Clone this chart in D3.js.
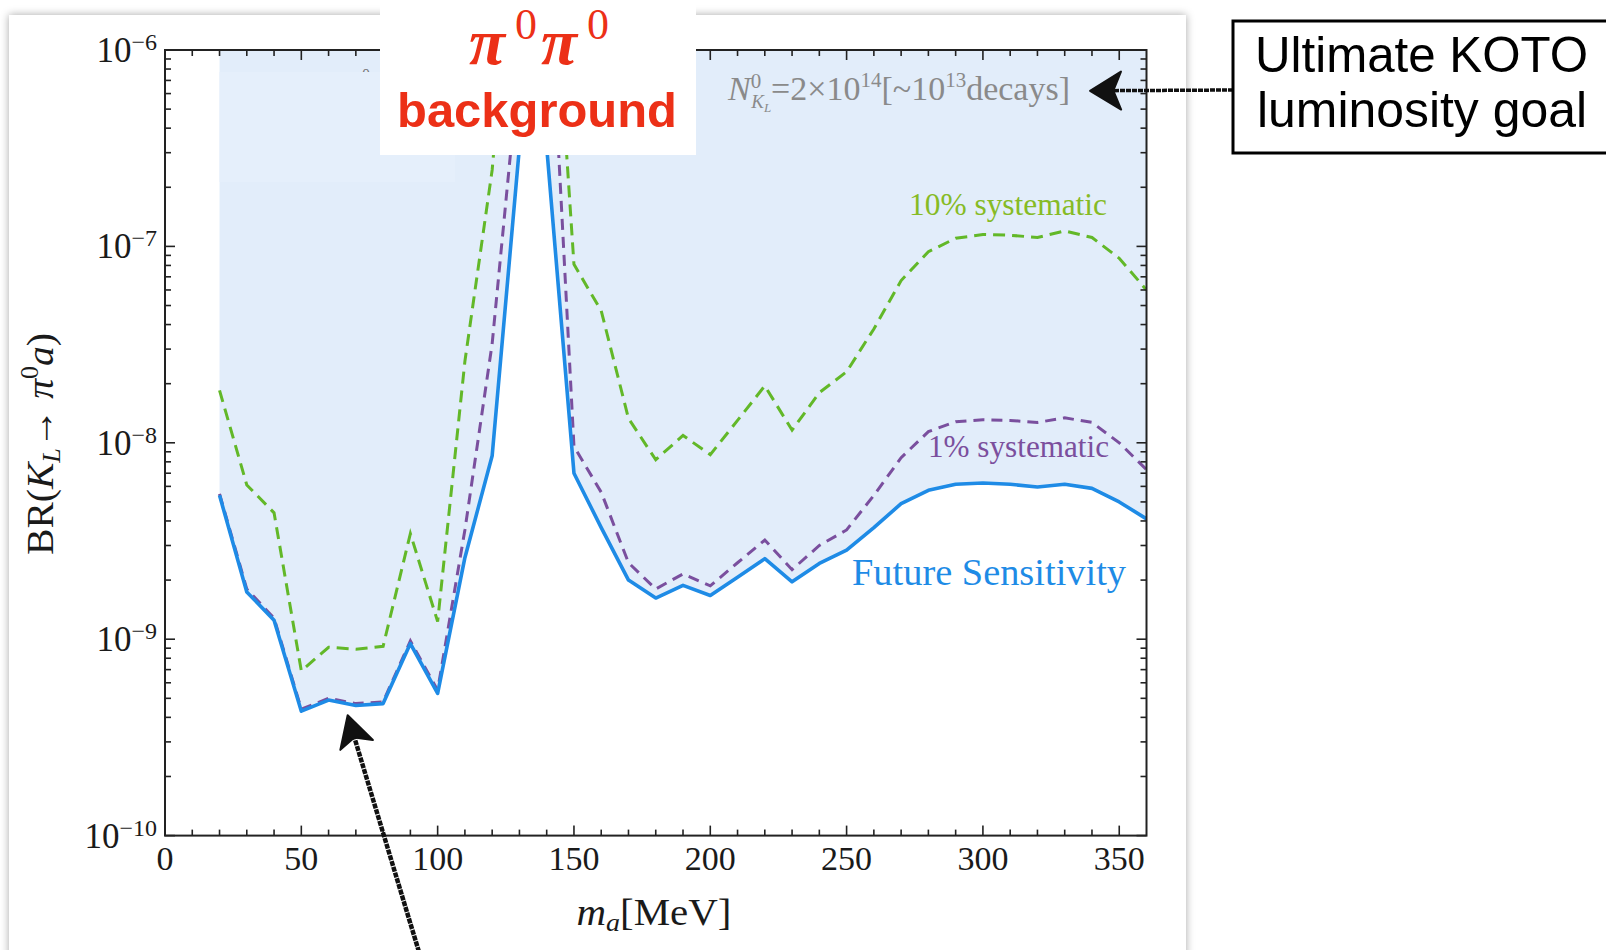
<!DOCTYPE html>
<html>
<head>
<meta charset="utf-8">
<script src="https://cdn.jsdelivr.net/npm/d3@7"></script>
<style>
  body { margin: 0; background: #fff; }
  svg { display: block; }
</style>
</head>
<body>
<script>
// axion mass grid [MeV]
const masses = [20, 30, 40, 50, 60, 70, 80, 90, 100, 110, 120, 130, 140, 150, 160, 170, 180,
  190, 200, 210, 220, 230, 240, 250, 260, 270, 280, 290, 300, 310, 320, 330, 340, 350, 360];

// BR(K_L -> pi0 a) reach, future sensitivity (solid blue)
const futureSens = [5.4e-9, 1.74e-9, 1.25e-9, 4.3e-10, 4.9e-10, 4.6e-10, 4.7e-10, 9.5e-10, 5.3e-10,
  2.6e-9, 8.6e-9, 3.2e-7, 3.2e-7, 7.0e-9, 3.7e-9, 2.0e-9, 1.62e-9, 1.88e-9, 1.67e-9, 2.07e-9,
  2.57e-9, 1.96e-9, 2.43e-9, 2.84e-9, 3.7e-9, 4.9e-9, 5.73e-9, 6.15e-9, 6.24e-9, 6.15e-9,
  5.96e-9, 6.15e-9, 5.86e-9, 5.0e-9, 4.1e-9];

// 1% systematic (purple dashed)
const sys1 = [5.5e-9, 1.8e-9, 1.28e-9, 4.4e-10, 5.0e-10, 4.7e-10, 4.8e-10, 9.8e-10, 5.5e-10,
  3.6e-9, 3.2e-8, 8.8e-7, 4.4e-6, 9.6e-9, 5.6e-9, 2.45e-9, 1.8e-9, 2.15e-9, 1.87e-9, 2.45e-9,
  3.2e-9, 2.26e-9, 3.0e-9, 3.6e-9, 5.4e-9, 8.4e-9, 1.14e-8, 1.28e-8, 1.31e-8, 1.3e-8,
  1.27e-8, 1.34e-8, 1.27e-8, 1.0e-8, 7.3e-9];

// 10% systematic (green dashed)
const sys10 = [1.85e-8, 6.1e-9, 4.4e-9, 6.9e-10, 9.1e-10, 8.9e-10, 9.2e-10, 3.45e-9, 1.23e-9,
  2.6e-8, 2.45e-7, 1e-5, 1e-5, 8.1e-8, 4.7e-8, 1.33e-8, 8.2e-9, 1.09e-8, 8.7e-9, 1.3e-8,
  1.95e-8, 1.16e-8, 1.8e-8, 2.3e-8, 3.8e-8, 6.7e-8, 9.4e-8, 1.1e-7, 1.15e-7, 1.14e-7,
  1.11e-7, 1.2e-7, 1.11e-7, 8.7e-8, 6.0e-8];

// tick labels
const xTickLabels = [0, 50, 100, 150, 200, 250, 300, 350];
const yTickExps = [-10, -9, -8, -7, -6];

const width = 1606, height = 950;
const plot = {left: 165, right: 1146.5, top: 50, bottom: 835.6};

const serif = "'Liberation Serif', 'DejaVu Serif', serif";
const sans = "'Liberation Sans', Arial, sans-serif";

const svg = d3.select("body")
  .append("svg")
    .attr("width", width)
    .attr("height", height);

const defs = svg.append("defs");
const shadow = defs.append("filter").attr("id", "shadow")
  .attr("x", "-5%").attr("y", "-5%").attr("width", "110%").attr("height", "110%");
shadow.append("feDropShadow")
  .attr("dx", 0).attr("dy", 0).attr("stdDeviation", 4)
  .attr("flood-color", "#000").attr("flood-opacity", 0.35);

defs.append("clipPath").attr("id", "clip")
  .append("rect")
    .attr("x", plot.left).attr("y", plot.top)
    .attr("width", plot.right - plot.left).attr("height", plot.bottom - plot.top);

// white card the figure sits on
svg.append("rect")
  .attr("x", 9).attr("y", 15).attr("width", 1177).attr("height", 980)
  .attr("fill", "#fff").attr("filter", "url(#shadow)");

// scales
const x = d3.scaleLinear().domain([0, 360]).range([plot.left, plot.right]);
const y = d3.scaleLog().domain([1e-10, 1e-6]).range([plot.bottom, plot.top]);

const inner = svg.append("g").attr("clip-path", "url(#clip)");

// shaded region above the future sensitivity curve
inner.append("path")
  .datum(futureSens)
  .attr("fill", "#e2edfa")
  .attr("d", d3.area()
    .x((d, i) => x(masses[i]))
    .y0(plot.top)
    .y1(d => y(d)));

// leftover glyph partly hidden by the pasted patch
svg.append("text")
  .attr("x", 362).attr("y", 80)
  .attr("font-family", serif).attr("font-size", 16).attr("fill", "#777")
  .text("0");

// slightly lighter patch in the top left of the shaded area
svg.append("rect")
  .attr("x", x(20)).attr("y", 72).attr("width", 455 - x(20)).attr("height", 110)
  .attr("fill", "#e5effb");

const line = d3.line().x((d, i) => x(masses[i])).y(d => y(d));

inner.append("path").datum(sys10)
  .attr("fill", "none").attr("stroke", "#62b828").attr("stroke-width", 3)
  .attr("stroke-dasharray", "12,7").attr("d", line);

inner.append("path").datum(sys1)
  .attr("fill", "none").attr("stroke", "#7a4f9e").attr("stroke-width", 3)
  .attr("stroke-dasharray", "11,7").attr("d", line);

inner.append("path").datum(futureSens)
  .attr("fill", "none").attr("stroke", "#1e8be6").attr("stroke-width", 3.6)
  .attr("stroke-linejoin", "round").attr("d", line);

// frame
svg.append("rect")
  .attr("x", plot.left).attr("y", plot.top)
  .attr("width", plot.right - plot.left).attr("height", plot.bottom - plot.top)
  .attr("fill", "none").attr("stroke", "#222").attr("stroke-width", 2);

// ticks on all four sides, pointing inward
const xMinor = d3.range(10, 360, 10).filter(d => d % 50 !== 0);
const yMinor = [];
yTickExps.slice(0, -1).forEach(e => { for (let k = 2; k <= 9; k++) yMinor.push(k * Math.pow(10, e)); });
const yMajor = yTickExps.map(e => Math.pow(10, e));

const ticks = svg.append("g").attr("stroke", "#222").attr("stroke-width", 1.6);
function xTicks(vals, len) {
  ticks.append("g").selectAll("line").data(vals).join("line")
    .attr("x1", d => x(d)).attr("x2", d => x(d))
    .attr("y1", plot.bottom).attr("y2", plot.bottom - len);
  ticks.append("g").selectAll("line").data(vals).join("line")
    .attr("x1", d => x(d)).attr("x2", d => x(d))
    .attr("y1", plot.top).attr("y2", plot.top + len);
}
function yTicks(vals, len) {
  ticks.append("g").selectAll("line").data(vals).join("line")
    .attr("y1", d => y(d)).attr("y2", d => y(d))
    .attr("x1", plot.left).attr("x2", plot.left + len);
  ticks.append("g").selectAll("line").data(vals).join("line")
    .attr("y1", d => y(d)).attr("y2", d => y(d))
    .attr("x1", plot.right).attr("x2", plot.right - len);
}
xTicks(xMinor, 6);
xTicks(xTickLabels, 10);
yTicks(yMinor, 6);
yTicks(yMajor, 10);

// x tick labels
svg.append("g").selectAll("text").data(xTickLabels).join("text")
  .attr("x", d => x(d)).attr("y", 870)
  .attr("text-anchor", "middle")
  .attr("font-family", serif).attr("font-size", 34).attr("fill", "#1a1a1a")
  .text(d => d);

// y tick labels 10^n
const yLab = svg.append("g").selectAll("text").data(yTickExps).join("text")
  .attr("x", 157).attr("y", d => y(Math.pow(10, d)) + 12)
  .attr("text-anchor", "end")
  .attr("font-family", serif).attr("fill", "#1a1a1a");
yLab.append("tspan").attr("font-size", 35).text("10");
yLab.append("tspan").attr("font-size", 24).attr("dy", -12).text(d => "\u2212" + Math.abs(d));

// axis titles
const xt = svg.append("text")
  .attr("x", 654).attr("y", 925).attr("text-anchor", "middle")
  .attr("font-family", serif).attr("font-size", 38).attr("fill", "#1a1a1a")
  .attr("textLength", 155).attr("lengthAdjust", "spacingAndGlyphs");
xt.append("tspan").attr("font-style", "italic").text("m");
xt.append("tspan").attr("font-style", "italic").attr("font-size", 26).attr("dy", 6).text("a");
xt.append("tspan").attr("dy", -6).text("[MeV]");

const yt = svg.append("text")
  .attr("transform", "translate(53,444) rotate(-90)")
  .attr("text-anchor", "middle")
  .attr("font-family", serif).attr("font-size", 38).attr("fill", "#1a1a1a")
  .attr("textLength", 222).attr("lengthAdjust", "spacingAndGlyphs");
yt.append("tspan").text("BR(");
yt.append("tspan").attr("font-style", "italic").text("K");
yt.append("tspan").attr("font-style", "italic").attr("font-size", 25).attr("dy", 7).text("L");
yt.append("tspan").attr("dy", -7).text("\u2192 ");
yt.append("tspan").attr("font-style", "italic").text("\u03c0");
yt.append("tspan").attr("font-size", 25).attr("dy", -15).text("0");
yt.append("tspan").attr("font-style", "italic").attr("dy", 15).text("a");
yt.append("tspan").text(")");

// curve labels
function curveLabel(text, x0, yb, len, size, color) {
  svg.append("text")
    .attr("x", x0).attr("y", yb)
    .attr("font-family", serif).attr("font-size", size).attr("fill", color)
    .attr("textLength", len).attr("lengthAdjust", "spacingAndGlyphs")
    .text(text);
}
curveLabel("10% systematic", 909, 215, 198, 31, "#86bb25");
curveLabel("1% systematic", 928, 457, 181, 31, "#7b4f9d");
curveLabel("Future Sensitivity", 852, 585, 274, 37, "#1e8be6");

// luminosity note
const nt = svg.append("text")
  .attr("x", 728).attr("y", 100)
  .attr("font-family", serif).attr("font-size", 34).attr("fill", "#8a8a8a");
nt.append("tspan").attr("font-style", "italic").text("N");
nt.append("tspan").attr("font-size", 21).attr("dy", -12).text("0");
nt.append("tspan").attr("font-style", "italic").attr("font-size", 19).attr("dx", -10).attr("dy", 20).text("K");
nt.append("tspan").attr("font-style", "italic").attr("font-size", 13).attr("dy", 4).text("L");
nt.append("tspan").attr("dy", -12).text("=2\u00d710");
nt.append("tspan").attr("font-size", 21).attr("dy", -13).text("14");
nt.append("tspan").attr("dy", 13).text("[~10");
nt.append("tspan").attr("font-size", 21).attr("dy", -13).text("13");
nt.append("tspan").attr("dy", 13).text("decays]");

// pi0 pi0 background label box
svg.append("rect")
  .attr("x", 380).attr("y", -5).attr("width", 316).attr("height", 160)
  .attr("fill", "#fff");
const pp = svg.append("text")
  .attr("y", 64)
  .attr("font-family", serif).attr("fill", "#ec3017");
pp.append("tspan").attr("x", 469).attr("font-size", 66).attr("font-style", "italic").attr("font-weight", "bold").text("\u03c0");
pp.append("tspan").attr("x", 515).attr("font-size", 44).attr("dy", -25).text("0");
pp.append("tspan").attr("x", 541).attr("font-size", 66).attr("font-style", "italic").attr("font-weight", "bold").attr("dy", 25).text("\u03c0");
pp.append("tspan").attr("x", 587).attr("font-size", 44).attr("dy", -25).text("0");
svg.append("text")
  .attr("x", 537).attr("y", 127).attr("text-anchor", "middle")
  .attr("font-family", sans).attr("font-weight", "bold").attr("font-size", 49).attr("fill", "#ec3017")
  .attr("textLength", 280).attr("lengthAdjust", "spacingAndGlyphs")
  .text("background");

// hand drawn arrows
function arrow(tip, tail, len, half, w) {
  const dx = tip[0] - tail[0], dy = tip[1] - tail[1];
  const L = Math.hypot(dx, dy), ux = dx / L, uy = dy / L;
  const bx = tip[0] - ux * len, by = tip[1] - uy * len;
  const nx = tip[0] - ux * len * 0.75, ny = tip[1] - uy * len * 0.75;
  svg.append("line")
    .attr("x1", tail[0]).attr("y1", tail[1]).attr("x2", nx).attr("y2", ny)
    .attr("stroke", "#111").attr("stroke-width", w).attr("stroke-dasharray", "5,1");
  svg.append("path")
    .attr("d", `M${tip[0]},${tip[1]}L${bx - uy * half},${by + ux * half}L${nx},${ny}L${bx + uy * half},${by - ux * half}Z`)
    .attr("fill", "#111").attr("stroke", "#111").attr("stroke-width", 2).attr("stroke-linejoin", "round");
}
arrow([x(339.3), y(6.2e-7)], [1233, 90], 31, 19, 3.5);
arrow([x(67), y(4.1e-10)], [419, 952], 31, 17, 4.5);

// KOTO goal box
svg.append("rect")
  .attr("x", 1233).attr("y", 21).attr("width", 400).attr("height", 132)
  .attr("fill", "#fff").attr("stroke", "#000").attr("stroke-width", 3);
svg.append("text")
  .attr("x", 1255).attr("y", 72)
  .attr("font-family", sans).attr("font-size", 50).attr("fill", "#000")
  .attr("textLength", 333).attr("lengthAdjust", "spacingAndGlyphs")
  .text("Ultimate KOTO");
svg.append("text")
  .attr("x", 1257).attr("y", 127)
  .attr("font-family", sans).attr("font-size", 50).attr("fill", "#000")
  .attr("textLength", 330).attr("lengthAdjust", "spacingAndGlyphs")
  .text("luminosity goal");
</script>
</body>
</html>
